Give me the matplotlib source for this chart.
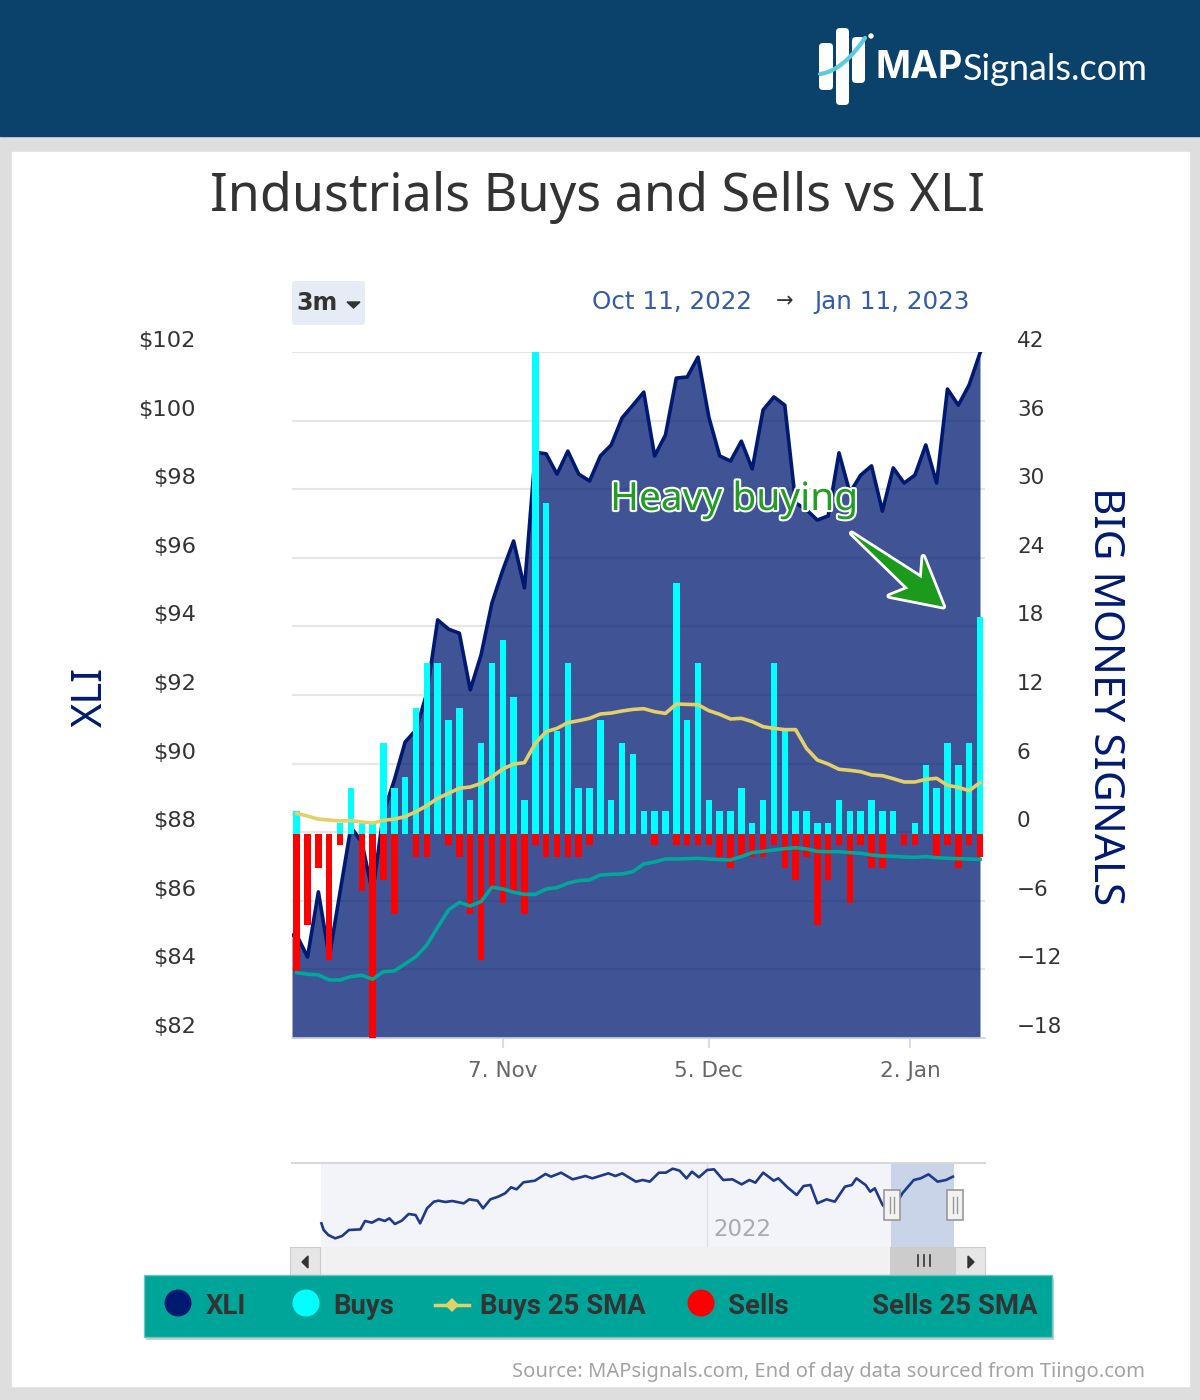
import matplotlib as mpl
mpl.use("Agg")
import matplotlib.pyplot as plt
import matplotlib.patheffects as pe
from matplotlib.patches import FancyBboxPatch, Polygon, Rectangle, Circle
import numpy as np

W, H = 1200, 1400

xli = [85.0, 84.36, 86.26, 84.36, 86.26, 88.15, 87.71, 86.23, 88.56, 89.52, 90.63, 90.98, 92.06, 94.19, 93.92, 93.8,
       92.15, 93.17, 94.68, 95.64, 96.49, 95.12, 99.08, 99.03, 98.44, 99.11, 98.44, 98.24, 98.97, 99.29, 100.08, 100.45,
       100.83, 98.97, 99.58, 101.24, 101.27, 101.85, 100.1, 98.97, 98.82, 99.4, 98.59, 100.31, 100.69, 100.45, 97.6, 97.4,
       97.1, 97.22, 99.06, 97.9, 98.41, 98.68, 97.36, 98.62, 98.18, 98.41, 99.29, 98.18, 100.92, 100.45, 101.04, 101.97]
buys = [2, 0, 0, 0, 1, 4, 1, 1, 8, 4, 5, 11, 15, 15, 10, 11, 3, 8, 15, 17, 12, 3, 43, 29, 9, 15, 4, 4, 10, 3, 8, 7,
        2, 2, 2, 22, 10, 15, 3, 2, 2, 4, 1, 3, 15, 9, 2, 2, 1, 1, 3, 2, 2, 3, 2, 2, 0, 1, 6, 4, 8, 6, 8, 19]
sells = [-12, -8, -3, -11, -1, 0, -5, -18, -4, -7, 0, -2, -2, 0, -1, -2, -7, -11, -5, -6, -5, -7, -1, -2, -2, -2, -2, -1, 0, 0, 0, 0,
         0, -1, 0, -1, -1, -1, -1, -2, -3, -2, -2, -2, -1, -3, -4, -2, -8, -4, -1, -6, -1, -3, -3, 0, -1, -1, 0, -2, -1, -3, -1, -2]
buys_sma = [1.8, 1.57, 1.3, 1.22, 1.14, 1.17, 1.05, 0.96, 1.2, 1.3, 1.52, 1.95, 2.48, 3.12, 3.56, 4.0,
            4.11, 4.43, 5.0, 5.69, 6.12, 6.24, 7.93, 8.95, 9.24, 9.74, 9.91, 10.12, 10.5, 10.58, 10.76, 10.9,
            10.96, 10.7, 10.55, 11.37, 11.34, 11.31, 10.79, 10.47, 10.06, 10.12, 9.83, 9.39, 9.24, 9.13, 9.13, 7.49,
            6.47, 6.12, 5.66, 5.57, 5.45, 5.16, 5.1, 4.84, 4.55, 4.55, 4.78, 4.87, 4.26, 4.08, 3.79, 4.49]
sells_sma = [-12.13, -12.27, -12.33, -12.77, -12.77, -12.48, -12.36, -12.71, -12.04, -11.98, -11.37, -10.73, -9.71, -8.16, -6.65, -5.98,
             -6.3, -5.92, -4.66, -4.81, -5.1, -5.28, -5.28, -4.81, -4.69, -4.31, -4.08, -4.02, -3.59, -3.53, -3.5, -3.29,
             -2.62, -2.45, -2.19, -2.19, -2.16, -2.13, -2.19, -2.24, -2.27, -1.98, -1.63, -1.52, -1.4, -1.28, -1.2, -1.31,
             -1.52, -1.55, -1.55, -1.63, -1.69, -1.84, -1.92, -1.95, -2.01, -2.04, -1.98, -2.07, -2.13, -2.16, -2.19, -2.22]

# navigator line (position along the strip, level)
nav_x = [90, 95, 105, 120, 135, 150, 175, 185, 200, 215, 228, 238, 250, 265, 280, 295, 305, 320, 335, 345, 360, 375, 400, 412,
         430, 442, 458, 475, 490, 503, 515, 530, 555, 578, 590, 612, 637, 665, 680, 715, 730, 745, 775, 790, 805, 825, 840, 855,
         870, 885, 897, 912, 930, 945, 965, 985, 1005, 1022, 1035, 1052, 1075, 1085, 1105, 1125, 1140, 1155, 1170, 1190, 1208,
         1230, 1245, 1255, 1275, 1285, 1295, 1312, 1330, 1355, 1380, 1395, 1412, 1432, 1450, 1465]
nav_level = [80, 60, 45, 35, 42, 60, 62, 87, 82, 93, 87, 95, 78, 88, 108, 105, 80, 125, 145, 148, 144, 147, 140, 152,
             148, 125, 152, 160, 170, 188, 182, 203, 208, 228, 220, 232, 212, 222, 215, 230, 222, 230, 205, 210, 205, 232, 232, 244,
             238, 215, 235, 218, 240, 242, 210, 212, 197, 210, 202, 232, 208, 215, 188, 165, 192, 195, 140, 152, 145,
             190, 195, 215, 195, 175, 185, 135, 110, 170, 210, 215, 227, 205, 210, 220]

xli_ticks = list(range(82, 103, 2))
sig_ticks = list(range(-18, 43, 6))
date_pos = [19, 38, 56.55]
date_labels = ["7. Nov", "5. Dec", "2. Jan"]
legend_names = ["XLI", "Buys", "Buys 25 SMA", "Sells", "Sells 25 SMA"]

NAVY = "#001a72"
idx = np.arange(len(xli))

fig = plt.figure(figsize=(W / 100, H / 100), dpi=100)


def px_axes(x0, y0, x1, y1, **kw):
    # axes placed by pixel box, y counted from the top of the picture
    return fig.add_axes([x0 / W, 1 - y1 / H, (x1 - x0) / W, (y1 - y0) / H], **kw)


# page furniture
bg = px_axes(0, 0, W, H, zorder=0)
bg.set(xlim=(0, W), ylim=(H, 0))
bg.axis("off")
bg.add_patch(Rectangle((0, 0), W, H, color="#dedede"))
bg.add_patch(Rectangle((0, 0), W, 136, color="#0b426b"))
bg.add_patch(Rectangle((12, 152), 1177, 1234, color="white"))
for x0, x1, y0, y1 in [(819, 833, 43, 90), (836, 849, 28, 105), (852, 865, 37, 83)]:
    bg.add_patch(FancyBboxPatch((x0 + 4, y0 + 4), x1 - x0 - 8, y1 - y0 - 8, boxstyle="round,pad=4",
                                fc="white", ec="none"))
swoosh_t = np.linspace(0, 1, 20)
bg.plot(820 + 45 * swoosh_t, 74 - 30 * swoosh_t ** 2 - 6 * swoosh_t, color="#5ccbe0", lw=3, solid_capstyle="round")
bg.add_patch(Circle((871, 36), 2, color="white"))
bg.text(875, 68, "MAP", color="white", fontsize=27, fontweight="bold", family="Inter", va="center", ha="left")
bg.text(963, 69, "Signals.com", color="white", fontsize=26, family="Lato", va="center", ha="left")

bg.text(598, 198, "Industrials Buys and Sells vs XLI", fontsize=37.5, family="Noto Sans", color="#333333",
        ha="center", va="center")
bg.add_patch(FancyBboxPatch((295, 284), 67, 38, boxstyle="round,pad=3", fc="#e6ebf5", ec="none"))
bg.text(296, 303, "3m", fontsize=17, fontweight="bold", color="#333333", va="center")
bg.add_patch(Polygon([(347, 302), (360, 302), (353.5, 308)], color="#333333"))
bg.text(592, 302, "Oct 11, 2022", fontsize=17.7, color="#335cad", va="center")
bg.text(785, 301, "→", fontsize=15, color="#333333", va="center", ha="center")
bg.text(814, 302, "Jan 11, 2023", fontsize=17.7, color="#335cad", va="center")
bg.text(91, 697, "XLI", fontsize=30, family="Noto Sans", color=NAVY, rotation=90, ha="center", va="center")
bg.text(1105, 696, "BIG MONEY SIGNALS", fontsize=30.4, family="Noto Sans", color=NAVY, rotation=270,
        ha="center", va="center")
bg.text(1145, 1372, "Source: MAPsignals.com, End of day data sourced from Tiingo.com", fontsize=14.5,
        family="Noto Sans", color="#a3a3a3", ha="right", va="center")

# main chart, price on the left scale, signals on the right
step = 10.85
ax = px_axes(292, 352, 985, 1038, zorder=1)
ax.set_xlim(-4.7 / step, 63 + 5 / step)
ax.set_ylim(82, 102)
ax.set_yticks(xli_ticks)
ax.grid(axis="y", color="#e6e6e6", lw=1.6)
ax.set_axisbelow(True)
ax.tick_params(axis="y", length=0, labelleft=False)
ax.set_xticks(date_pos, date_labels, fontsize=15.5, color="#666666")
ax.tick_params(axis="x", length=7.5, width=1.2, color="#ccd6eb", pad=9)
for s in ["top", "left", "right"]:
    ax.spines[s].set_visible(False)
ax.spines["bottom"].set_color("#ccd6eb")
ax.spines["bottom"].set_linewidth(1.2)
area_x = np.r_[ax.get_xlim()[0], idx]
area_y = np.r_[xli[0], xli]
ax.fill_between(area_x, area_y, 82, color=NAVY, alpha=0.75, lw=0)
ax.plot(area_x, area_y, color=NAVY, lw=2.6)
for v in xli_ticks:
    ax.annotate(f"${v}", xy=(0, v), xycoords=ax.get_yaxis_transform(), xytext=(-96, 11),
                textcoords="offset pixels", ha="right", va="center", fontsize=16.2, color="#333333",
                annotation_clip=False)

ax2 = ax.twinx()
ax2.set_ylim(-17.85, 42.17)
ax2.set_yticks([])
for s in ax2.spines.values():
    s.set_visible(False)
ax2.bar(idx, buys, width=0.6, color="#00ffff", lw=0)
ax2.bar(idx, sells, width=0.6, color="#ff0000", lw=0)
ax2.plot(idx, buys_sma, color="#e3d068", lw=2.6)
ax2.plot(idx, sells_sma, color="#00a79b", lw=2.6)
for v in sig_ticks:
    ax2.annotate(f"{v}".replace("-", "\u2212"), xy=(1, (v + 18) / 60), xycoords="axes fraction", xytext=(32, 11),
                 textcoords="offset pixels", ha="left", va="center", fontsize=15.5, color="#333333",
                 annotation_clip=False)

# navigator strip
nav = px_axes(292, 1163, 985, 1247, zorder=1)
nav.set_xlim(26, 1535)
nav.set_ylim(9, 261)
nav.set_xticks([])
nav.set_yticks([])
for s in ["left", "right", "bottom"]:
    nav.spines[s].set_visible(False)
nav.spines["top"].set_color("#d8d8d8")
nav.spines["top"].set_linewidth(1.5)
nav.axvspan(90, 1330, color="#f3f4fa", lw=0)
nav.axvspan(1330, 1468, color="#c9d4e8", lw=0)
nav.axvline(930, color="#e0e0e0", lw=1)
nav.plot(nav_x, nav_level, color="#1f3a8a", lw=1.9)
nav.text(944, 60, "2022", fontsize=16.5, color="#aaaaaa", va="center")

# overlay: scrollbar, legend, callout
top = px_axes(0, 0, W, H, zorder=5)
top.set(xlim=(0, W), ylim=(H, 0))
top.axis("off")
top.patch.set_alpha(0)
top.add_patch(Rectangle((290, 1247), 695, 28, fc="#f1f1f1", ec="none"))
top.add_patch(Rectangle((290, 1247), 30, 28, fc="#e6e6e6", ec="#cccccc", lw=0.8))
top.add_patch(Rectangle((955, 1247), 30, 28, fc="#e6e6e6", ec="#cccccc", lw=0.8))
top.add_patch(Rectangle((890, 1247), 65, 28, fc="#cccccc", ec="none"))
top.add_patch(Polygon([(308, 1256), (308, 1268), (302, 1262)], color="#333333"))
top.add_patch(Polygon([(968, 1256), (968, 1268), (974, 1262)], color="#333333"))
for x in [918, 924, 930]:
    top.plot([x, x], [1255, 1266], color="#333333", lw=1.2)
for x in [884, 947]:
    top.add_patch(Rectangle((x, 1190), 16, 30, fc="#f2f2f2", ec="#999999", lw=1.2))
    for dx in [6, 10]:
        top.plot([x + dx, x + dx], [1197, 1213], color="#999999", lw=1)

top.add_patch(Rectangle((146, 1279), 908, 61, fc="#d0d0d0", ec="none"))
top.add_patch(Rectangle((144, 1275), 908, 62, fc="#00a59a", ec="#66c8c0", lw=1))
for x, c in [(178, NAVY), (306, "#00ffff"), (701, "#ff0000")]:
    top.add_patch(Circle((x, 1303), 12.8, color=c))
top.plot([435, 469], [1305, 1305], color="#e3d068", lw=2.5)
top.plot([452], [1305], marker="D", ms=7, color="#e3d068", mew=0)
for x, name in zip([206, 333, 480, 728, 872], legend_names):
    top.text(x, 1306, name, fontsize=19.8, fontweight="bold", family="Roboto", color="#333333", va="center")

top.text(734, 500, "Heavy buying", fontsize=28, family="Noto Sans", color="#1f9e1f", ha="center", va="center",
         path_effects=[pe.withStroke(linewidth=3, foreground="white")])
arrow = Polygon([(851.7, 533.3), (921.7, 578.3), (923.3, 556.7), (943.3, 606.7), (889.3, 596), (908.3, 588.3)],
                fc="#1c9a1c", ec="none", joinstyle="round",
                path_effects=[pe.withStroke(linewidth=4, foreground="white")])
top.add_patch(arrow)

fig.savefig("out.png", dpi=100)
